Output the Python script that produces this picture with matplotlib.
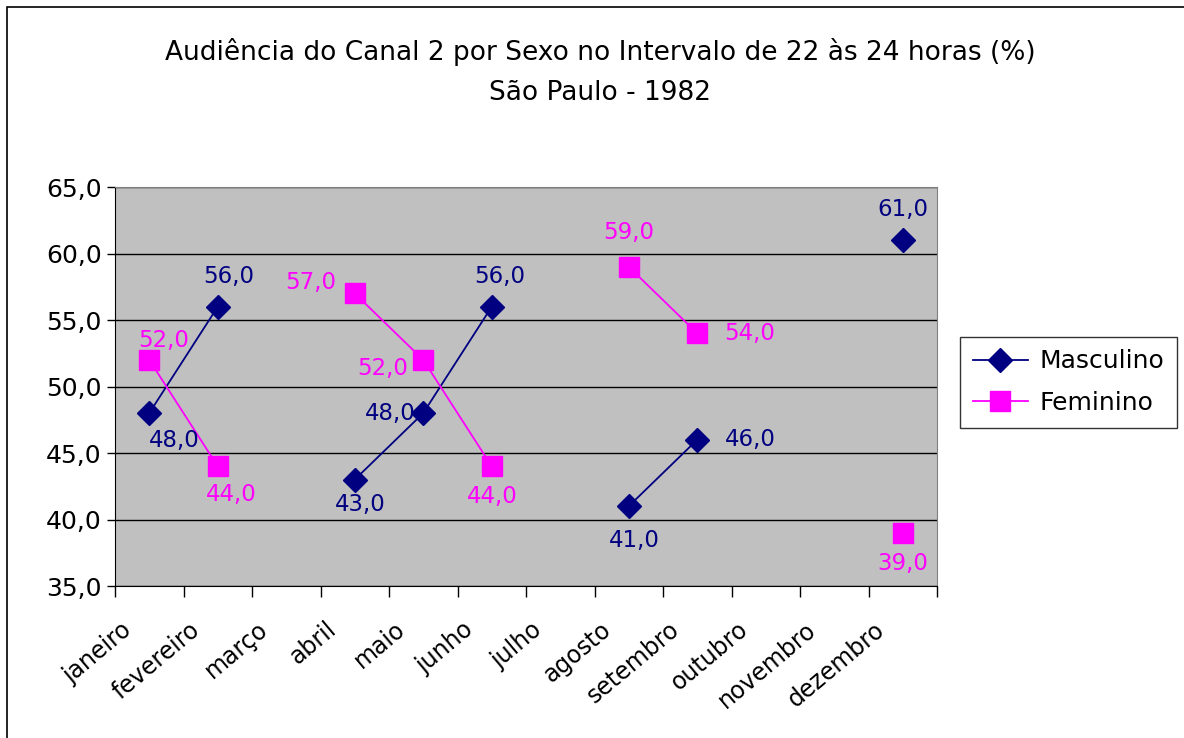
import numpy as np
import matplotlib
matplotlib.use("Agg")
import matplotlib.pyplot as plt
from matplotlib.patches import Rectangle

months = ["janeiro", "fevereiro", "março", "abril", "maio", "junho", "julho",
          "agosto", "setembro", "outubro", "novembro", "dezembro"]
masculino = [48, 56, np.nan, 43, 48, 56, np.nan, 41, 46, np.nan, np.nan, 61]
feminino = [52, 44, np.nan, 57, 52, 44, np.nan, 59, 54, np.nan, np.nan, 39]
yticks = [35, 40, 45, 50, 55, 60, 65]

# label offsets (points) per category
masc_off = [(18, -20), (8, 22), None, (4, -18), (-24, 0), (6, 22), None, (4, -25), (38, 0), None, None, (0, 22)]
fem_off = [(10, 14), (10, -20), None, (-32, 8), (-29, -6), (0, -22), None, (0, 25), (38, 0), None, None, (0, -22)]

plt.rcParams['font.family'] = ['DejaVu Sans']
fig = plt.figure(figsize=(11.84, 7.38), dpi=100)
ax = fig.add_axes([115/1184, 1-586/738, (937-115)/1184, (586-187)/738])
ax.set_facecolor('#C0C0C0')

x = np.arange(len(months))
ln1, = ax.plot(x, masculino, color='#000080', marker='D', markersize=12, lw=1.3, label='Masculino')
ln2, = ax.plot(x, feminino, color='#FF00FF', marker='s', markersize=15, lw=1.3, label='Feminino')

def fmt(v):
    return f"{v:.1f}".replace('.', ',')

for i in range(len(months)):
    if not np.isnan(masculino[i]):
        ax.annotate(fmt(masculino[i]), (x[i], masculino[i]), xytext=masc_off[i], textcoords='offset points',
                    ha='center', va='center', color='#000080', fontsize=16.5)
    if not np.isnan(feminino[i]):
        ax.annotate(fmt(feminino[i]), (x[i], feminino[i]), xytext=fem_off[i], textcoords='offset points',
                    ha='center', va='center', color='#FF00FF', fontsize=16.5)

ax.set_xlim(-0.5, len(months) - 0.5)
ax.set_ylim(35, 65)
ax.set_yticks(yticks)
ax.set_yticklabels([fmt(v) for v in yticks], fontsize=18)
ax.yaxis.grid(True, color='black', lw=1)
ax.set_axisbelow(True)
ax.set_xticks(np.arange(len(months) + 1) - 0.5)
ax.set_xticklabels([])
ax.tick_params(axis='x', direction='out', length=8, width=1)
ax.tick_params(axis='y', direction='out', length=6, width=1)
for i, m in enumerate(months):
    ax.annotate(m, (x[i], 35), xytext=(-12, -33), textcoords='offset points',
                rotation=40, rotation_mode='anchor', ha='right', va='baseline', fontsize=17)
for s in ['top', 'right']:
    ax.spines[s].set_color('#808080')
for s in ['left', 'bottom']:
    ax.spines[s].set_color('black')

fig.text(600/1184, 1-52/738, "Audiência do Canal 2 por Sexo no Intervalo de 22 às 24 horas (%)",
         ha='center', va='center', fontsize=19)
fig.text(600/1184, 1-93/738, "São Paulo - 1982", ha='center', va='center', fontsize=19)

leg = fig.legend(handles=[ln1, ln2], loc='upper left', bbox_to_anchor=(960/1184, 1-337/738),
                 fontsize=18, frameon=True, fancybox=False, edgecolor='black', borderpad=0.5,
                 borderaxespad=0, handlelength=2.2, handletextpad=0.5, labelspacing=0.7)
leg.get_frame().set_linewidth(1)

fig.patches.append(Rectangle((7/1184, -0.01), 1.2, 1 - 7/738 + 0.01, transform=fig.transFigure,
                             fill=False, edgecolor='black', lw=1.2))

fig.savefig('out.png', dpi=100)
